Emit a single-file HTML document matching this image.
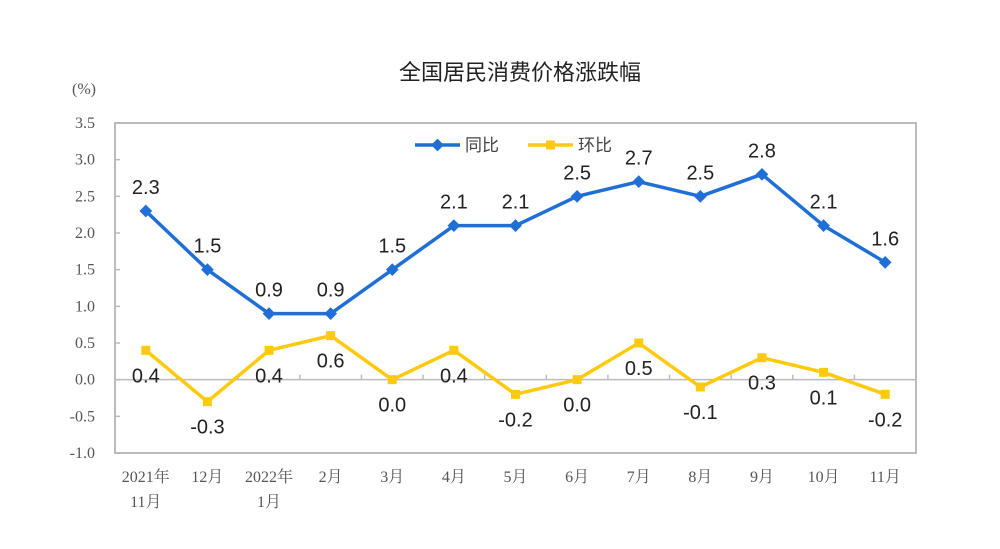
<!DOCTYPE html>
<html><head><meta charset="utf-8"><style>
body{margin:0;background:#fff;}
svg text{font-family:"Liberation Sans","Noto Sans CJK SC",sans-serif;}
.ax{font-family:"Liberation Serif","Noto Serif CJK SC",serif !important;fill:#555;font-size:16px;}
.lbl{font-size:20px;fill:#222;}
</style></head><body>
<svg id="c" width="1000" height="544" viewBox="0 0 1000 544">
<text x="520" y="80" text-anchor="middle" font-size="22" fill="#222">全国居民消费价格涨跌幅</text>
<text x="84" y="94" class="ax" text-anchor="middle">(%)</text>
<g id="g"></g>
</svg>
<script>
const categories=[["2021年","11月"],["12月"],["2022年","1月"],["2月"],["3月"],["4月"],["5月"],["6月"],["7月"],["8月"],["9月"],["10月"],["11月"]];
const yoy=[2.3,1.5,0.9,0.9,1.5,2.1,2.1,2.5,2.7,2.5,2.8,2.1,1.6];
const mom=[0.4,-0.3,0.4,0.6,0.0,0.4,-0.2,0.0,0.5,-0.1,0.3,0.1,-0.2];
const yTicks=[3.5,3.0,2.5,2.0,1.5,1.0,0.5,0.0,-0.5,-1.0];
const L=115,R=916,T=123,B=453,yMin=-1,yMax=3.5;
const bw=(R-L)/categories.length;
const x=i=>L+bw*(i+0.5);
const y=v=>B-(v-yMin)/(yMax-yMin)*(B-T);
const g=document.getElementById('g');
const NS='http://www.w3.org/2000/svg';
function mk(t,a,txt){const e=document.createElementNS(NS,t);for(const k in a)e.setAttribute(k,a[k]);if(txt!=null)e.textContent=txt;g.appendChild(e);return e;}
let e=mk('rect',{x:L,y:T,width:R-L,height:B-T,fill:'none',stroke:'#bbb','stroke-width':2});


yTicks.forEach(v=>{
 const t=mk('text',{x:L-20,y:y(v)+5,'text-anchor':'end',class:'ax'},v.toFixed(1));
 
 
 const m=mk('line',{x1:L,x2:L+5,y1:y(v),y2:y(v),stroke:'#bbb','stroke-width':1.5});
 
 
});
e=mk('line',{x1:L,x2:R,y1:y(0),y2:y(0),stroke:'#bbb','stroke-width':1.5});


for(let i=1;i<categories.length;i++){
 const m=mk('line',{x1:L+bw*i,x2:L+bw*i,y1:y(0)-5,y2:y(0),stroke:'#bbb','stroke-width':1.5});
 
 
}
categories.forEach((c,i)=>{
 c.forEach((s,j)=>{
  const t=mk('text',{x:x(i),y:482+j*25,'text-anchor':'middle',class:'ax'},s);
  
  
 });
});
function series(vals,col,name,marker,lblOff){
 const p=mk('polyline',{points:vals.map((v,i)=>x(i)+','+y(v)).join(' '),fill:'none',stroke:col,'stroke-width':3.5,'stroke-linejoin':'round'});
 
 
 vals.forEach((v,i)=>{
  let m;
  if(marker==='d') m=mk('rect',{x:x(i)-4.5,y:y(v)-4.5,width:9,height:9,fill:col,transform:`rotate(45 ${x(i)} ${y(v)})`});
  else m=mk('rect',{x:x(i)-4.5,y:y(v)-4.5,width:9,height:9,fill:col});
  
  
  const t=mk('text',{x:x(i),y:y(v)+lblOff(v,i),'text-anchor':'middle',class:'lbl'},v.toFixed(1));
  
  
 });
}
series(yoy,'#1f6fd6','yoy','d',()=> -17);
series(mom,'#ffc90e','mom','s',(v,i)=> (v<=0? 32 : 32));
e=mk('line',{x1:415,x2:460,y1:145,y2:145,stroke:'#1f6fd6','stroke-width':3.5});


e=mk('rect',{x:433,y:140.5,width:9,height:9,fill:'#1f6fd6',transform:'rotate(45 437.5 145)'});


e=mk('text',{x:465,y:151,'font-size':17,fill:'#444'},'同比');


e=mk('line',{x1:528,x2:573,y1:145,y2:145,stroke:'#ffc90e','stroke-width':3.5});


e=mk('rect',{x:546,y:140.5,width:9,height:9,fill:'#ffc90e'});


e=mk('text',{x:578,y:151,'font-size':17,fill:'#444'},'环比');


</script>
</body></html>
